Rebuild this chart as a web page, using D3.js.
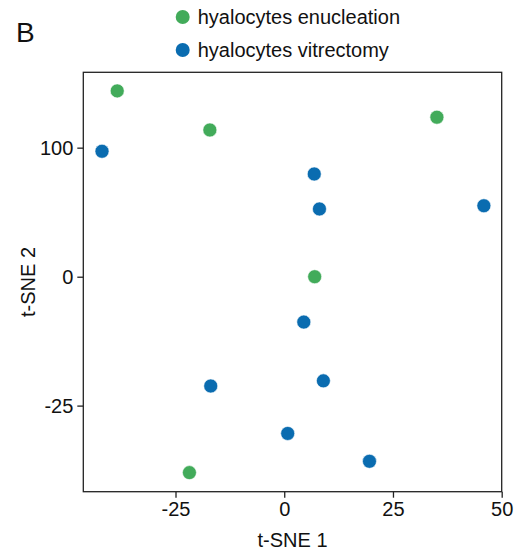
<!DOCTYPE html>
<html>
<head>
<meta charset="utf-8">
<script src="https://cdn.jsdelivr.net/npm/d3@7"></script>
<style>
  body { margin: 0; background: #fff; }
  text { font-family: "Liberation Sans", Arial, sans-serif; fill: #111; }
</style>
</head>
<body>
<div id="chart"></div>
<script>
// 数据
var groups = ['hyalocytes enucleation', 'hyalocytes vitrectomy'];
var groupColor = ['#42ab5a', '#0a6cb0'];

var enucleationX = [-38.4, -17.1, 35.1, 7.0, -21.8];
var enucleationY = [144.0, 113.7, 123.6, 0.0, -38.0];

var vitrectomyX = [-41.9, 6.9, 8.1, 45.9, 4.5, -16.9, 9.0, 0.8, 19.6];
var vitrectomyY = [97.2, 79.6, 52.5, 55.0, -8.8, -21.2, -20.2, -30.4, -35.8];

var xTicks = [-25, 0, 25, 50];
var yTicks = [-25, 0, 100];

var width = 530,
    height = 554;
var margin = { top: 72.3, left: 83.3, right: 28.3, bottom: 62.3 };
var w = width - margin.left - margin.right,
    h = height - margin.top - margin.bottom;

var svg = d3.select('#chart').append('svg')
    .attr('width', width)
    .attr('height', height);

var g = svg.append('g')
    .attr('transform', 'translate(' + margin.left + ',' + margin.top + ')');

var x = d3.scaleLinear().domain([-46.2, 50]).range([0, w]);
// y轴刻度在原图中不是等距的，用分段线性比例尺
var y = d3.scaleLinear().domain([-41.7, 0, 158.4]).range([h, h * 0.4874, 0]);

// 刻度文字用普通连字符
var plainFormat = function(d) { return String(d); };

// 坐标轴
var xAxis = g.append('g')
    .attr('transform', 'translate(0,' + h + ')')
    .call(d3.axisBottom(x).tickValues(xTicks).tickSize(6).tickPadding(4).tickFormat(plainFormat));
var yAxis = g.append('g')
    .call(d3.axisLeft(y).tickValues(yTicks).tickSize(6).tickPadding(4).tickFormat(plainFormat));

[xAxis, yAxis].forEach(function(a) {
    a.select('.domain').remove();
    a.selectAll('line').attr('stroke', '#222').attr('stroke-width', 1.3);
    a.selectAll('text').style('font-size', '20px').style('fill', '#111')
        .style('font-family', '"Liberation Sans", Arial, sans-serif');
});

// 边框
g.append('rect')
    .attr('x', 0).attr('y', 0)
    .attr('width', w).attr('height', h)
    .attr('fill', 'none')
    .attr('stroke', '#222')
    .attr('stroke-width', 1.3);

// 散点
function addPoints(xs, ys, color) {
    var pts = xs.map(function(d, i) { return { x: d, y: ys[i] }; });
    g.append('g').selectAll('circle')
        .data(pts)
        .enter()
        .append('circle')
        .attr('cx', function(d) { return x(d.x); })
        .attr('cy', function(d) { return y(d.y); })
        .attr('r', 7)
        .attr('fill', color)
        .attr('stroke', '#fff')
        .attr('stroke-width', 0.6);
}
addPoints(enucleationX, enucleationY, groupColor[0]);
addPoints(vitrectomyX, vitrectomyY, groupColor[1]);

// 轴标题
svg.append('text')
    .attr('x', margin.left + w / 2)
    .attr('y', 547)
    .attr('text-anchor', 'middle')
    .style('font-size', '20px')
    .text('t-SNE 1');
svg.append('text')
    .attr('transform', 'translate(35,' + (margin.top + h / 2) + ') rotate(-90)')
    .attr('text-anchor', 'middle')
    .style('font-size', '20px')
    .text('t-SNE 2');

// 面板字母
svg.append('text')
    .attr('x', 16)
    .attr('y', 42.3)
    .style('font-size', '28px')
    .text('B');

// 图例
var legend = svg.append('g').selectAll('g')
    .data(groups)
    .enter()
    .append('g')
    .attr('transform', function(d, i) { return 'translate(182.7,' + (17 + i * 33) + ')'; });
legend.append('circle')
    .attr('r', 7)
    .attr('fill', function(d, i) { return groupColor[i]; });
legend.append('text')
    .attr('x', 15)
    .attr('dy', '0.35em')
    .style('font-size', '20px')
    .text(function(d) { return d; });
</script>
</body>
</html>
